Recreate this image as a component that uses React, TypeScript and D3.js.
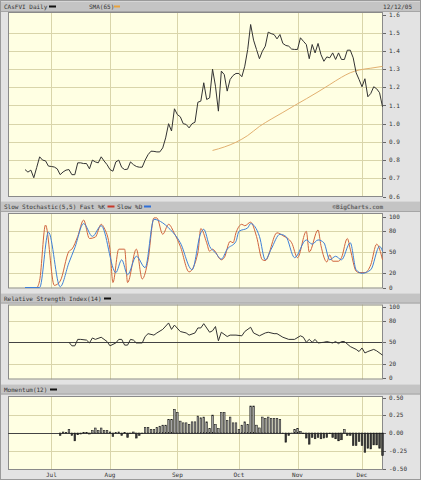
import React from 'react';
import * as d3 from 'd3';

// ---- data ----
const price: number[] = [
  0.748, 0.734, 0.745, 0.703, 0.76, 0.818, 0.80, 0.796, 0.767, 0.765,
  0.762, 0.752, 0.72, 0.735, 0.745, 0.748, 0.72, 0.72, 0.785, 0.785,
  0.781, 0.781, 0.752, 0.80, 0.79, 0.785, 0.818, 0.795, 0.775, 0.748,
  0.739, 0.79, 0.80, 0.76, 0.748, 0.75, 0.79, 0.775, 0.765, 0.761,
  0.761, 0.80, 0.83, 0.849, 0.848, 0.845, 0.845, 0.867, 0.922, 1.0,
  0.96, 1.082, 1.05, 1.038, 1.0, 0.996, 0.977, 1.0, 1.008, 1.118,
  1.124, 1.225, 1.133, 1.142, 1.30, 1.206, 1.069, 1.289, 1.27, 1.179,
  1.243, 1.265, 1.276, 1.276, 1.258, 1.316, 1.408, 1.545, 1.459, 1.408,
  1.357, 1.398, 1.426, 1.503, 1.495, 1.49, 1.466, 1.49, 1.441, 1.43,
  1.426, 1.41, 1.408, 1.408, 1.472, 1.453, 1.435, 1.357, 1.435, 1.389,
  1.441, 1.38, 1.343, 1.367, 1.362, 1.389, 1.353, 1.389, 1.353, 1.353,
  1.404, 1.404, 1.362, 1.28, 1.243, 1.203, 1.247, 1.148, 1.166, 1.203,
  1.192, 1.17, 1.093,
];

const sma65: [number, number][] = [
  [64, 0.853], [68, 0.872], [72, 0.898], [76, 0.935], [80, 0.985], [84, 1.025],
  [88, 1.062], [92, 1.100], [96, 1.137], [100, 1.175], [104, 1.215], [108, 1.255],
  [111, 1.28], [114, 1.295], [118, 1.305], [122, 1.315],
];

const stochK: [number, number][] = [
  [0, 0], [4, 0], [5, 10], [7, 88], [10, 3], [12, 9], [15, 51], [16, 54], [18, 72], [20, 95],
  [22, 69], [24, 71], [26, 89], [27, 84], [29, 54], [30, 7], [32, 54], [34, 54], [35, 7], [38, 54],
  [40, 12], [42, 39], [44, 98], [45, 98], [47, 75], [49, 89], [51, 76], [53, 58], [56, 22], [59, 49],
  [60, 83], [62, 63], [63, 51], [64, 54], [67, 39], [68, 42], [70, 65], [71, 63], [72, 77], [74, 89],
  [75, 87], [77, 92], [79, 72], [81, 39], [82, 38], [86, 77], [88, 73], [91, 63], [93, 42], [96, 79],
  [97, 50], [100, 81], [101, 59], [103, 36], [104, 46], [105, 37], [107, 37], [108, 42], [110, 69], [111, 54],
  [113, 23], [114, 21], [116, 21], [118, 32], [120, 61], [122, 39],
];

const stochD: [number, number][] = [
  [0, 0], [5, 0], [8, 78], [12, 1], [15, 35], [17, 56], [20, 90], [23, 72], [26, 87], [31, 21],
  [33, 39], [35, 18], [38, 44], [41, 28], [44, 96], [47, 91], [49, 84], [53, 63], [57, 25], [60, 77],
  [61, 82], [63, 58], [65, 49], [67, 40], [69, 54], [72, 65], [73, 79], [76, 84], [77, 90], [80, 72],
  [82, 39], [84, 54], [87, 75], [89, 72], [92, 42], [96, 67], [98, 61], [100, 67], [102, 63], [104, 39],
  [106, 44], [108, 39], [111, 63], [113, 25], [115, 20], [118, 25], [121, 58], [122, 51],
];

const rsi14: [number, number][] = [
  [15, 50], [16, 45], [17, 45], [18, 54], [19, 54], [21, 53], [22, 49], [23, 56], [24, 54], [26, 57],
  [28, 51], [29, 45], [31, 49], [32, 54], [33, 54], [34, 46], [35, 46], [36, 54], [37, 53], [38, 49],
  [40, 49], [41, 58], [42, 62], [44, 60], [45, 63], [47, 68], [49, 77], [50, 68], [51, 74], [53, 65],
  [55, 63], [56, 60], [58, 63], [59, 70], [60, 70], [61, 76], [63, 64], [64, 66], [65, 72], [66, 52],
  [67, 64], [69, 58], [70, 60], [72, 60], [74, 59], [75, 65], [77, 71], [78, 63], [80, 59], [82, 63],
  [83, 64], [85, 62], [86, 62], [88, 57], [90, 54], [92, 54], [94, 59], [95, 57], [96, 50], [97, 54],
  [98, 50], [99, 54], [100, 49], [102, 50], [103, 51], [105, 49], [106, 51], [107, 48], [108, 51], [109, 51],
  [111, 44], [113, 40], [114, 37], [115, 42], [116, 35], [117, 37], [119, 40], [120, 38], [122, 32],
];

const momentumStart = 12;
const momentum: number[] = [
  -0.034, 0.014, 0.005, 0.052, -0.034, -0.11, -0.024, -0.014, 0.01, 0.01,
  -0.014, 0.033, 0.07, 0.033, 0.07, 0.033, 0.033, 0.014, -0.048, 0.005,
  0.014, -0.034, 0.005, -0.062, -0.005, 0.014, -0.071, -0.034, -0.005, 0.08,
  0.08, 0.048, 0.048, 0.08, 0.095, 0.11, 0.11, 0.19, 0.19, 0.333,
  0.286, 0.167, 0.143, 0.143, 0.119, 0.157, 0.157, 0.238, 0.214, 0.224,
  0.157, 0.062, 0.252, 0.119, 0.062, 0.286, 0.286, 0.176, 0.224, 0.143,
  0.143, 0.048, 0.11, 0.157, 0.119, 0.38, 0.38, 0.11, 0.071, 0.224,
  0.205, 0.224, 0.205, 0.205, 0.205, 0.19, -0.005, -0.129, -0.034, 0.0,
  0.048, 0.062, 0.024, -0.01, -0.071, -0.157, -0.062, -0.081, -0.062, -0.081,
  -0.071, -0.062, -0.01, -0.062, -0.081, -0.11, -0.095, 0.048, -0.034, -0.034,
  -0.176, -0.176, -0.119, -0.176, -0.271, -0.214, -0.224, -0.167, -0.167, -0.214,
  -0.319,
];

const monthLabels = ['Jul', 'Aug', 'Sep', 'Oct', 'Nov', 'Dec'];
const monthIdx = [9, 29, 52, 73, 93, 115];
const priceTicks = [0.6, 0.7, 0.8, 0.9, 1.0, 1.1, 1.2, 1.3, 1.4, 1.5, 1.6];
const stochTicks = [0, 20, 50, 80, 100];
const rsiTicks = [0, 20, 50, 80, 100];
const momTicks = [-0.5, -0.25, 0, 0.25, 0.5];

// ---- layout ----
const W = 421;
const H = 480;
const PL = 8;
const PR = 383;
const LABX = 389;
const FONT = 'DejaVu Sans Mono, monospace';
const BG = '#e3e3e3';
const HEAD = '#c4c4c4';
const PLOT = '#ffffe3';
const GRID = '#d9d5aa';
const TXT = '#333';

const x = d3.scaleLinear().domain([0, price.length - 1]).range([25, 382.5]);

const yP = d3.scaleLinear().domain([0.6, 1.6]).range([196.5, 14.5]);
const yS = d3.scaleLinear().domain([0, 100]).range([287.5, 216.5]);
const yR = d3.scaleLinear().domain([0, 100]).range([378, 306.5]);
const yM = d3.scaleLinear().domain([-0.5, 0.5]).range([468.5, 397.5]);

function HeaderBar({ y, h }: { y: number; h: number }) {
  return (
    <g>
      <rect x={1} y={y} width={W - 2} height={h} fill={HEAD} />
      <line x1={1} x2={W - 1} y1={y + 0.5} y2={y + 0.5} stroke="#d6d6d6" />
      <line x1={1} x2={W - 1} y1={y + h - 0.5} y2={y + h - 0.5} stroke="#a6a6a6" />
    </g>
  );
}

function Panel({
  top, bottom, ticks, scale, fmt, hGrid, dark,
}: {
  top: number; bottom: number; ticks: number[]; scale: d3.ScaleLinear<number, number>;
  fmt: (v: number) => string; hGrid: number[]; dark?: number;
}) {
  return (
    <g>
      <rect x={PL} y={top} width={PR - PL} height={bottom - top} fill={PLOT} />
      {monthIdx.map((m, i) => (
        <line key={'v' + i} x1={Math.round(x(m)) + 0.5} x2={Math.round(x(m)) + 0.5} y1={top} y2={bottom} stroke={GRID} />
      ))}
      {hGrid.map((t, i) => (
        <line key={'h' + i} x1={PL} x2={PR} y1={Math.round(scale(t)) + 0.5} y2={Math.round(scale(t)) + 0.5} stroke={GRID} />
      ))}
      {dark !== undefined && (
        <line x1={PL} x2={PR} y1={Math.round(scale(dark)) + 0.5} y2={Math.round(scale(dark)) + 0.5} stroke="#444" strokeWidth={1} />
      )}
      <rect x={PL + 0.5} y={top + 0.5} width={PR - PL - 1} height={bottom - top - 1} fill="none" stroke="#8a8a8a" />
      {ticks.map((t, i) => (
        <g key={'t' + i}>
          <line x1={PR} x2={PR + 3} y1={Math.round(scale(t)) + 0.5} y2={Math.round(scale(t)) + 0.5} stroke="#666" />
          <text x={LABX} y={scale(t)} dy="0.35em" fontSize={6} fontFamily={FONT} fill={TXT}>{fmt(t)}</text>
        </g>
      ))}
    </g>
  );
}

export default function App() {
  const priceLine = d3.line<number>().x((_, i) => x(i)).y((d) => yP(d))(price) || '';
  const smaLine = d3.line<[number, number]>().x((d) => x(d[0])).y((d) => yP(d[1])).curve(d3.curveMonotoneX)(sma65) || '';
  const kLine = d3.line<[number, number]>().x((d) => x(d[0])).y((d) => yS(d[1])).curve(d3.curveMonotoneX)(stochK) || '';
  const dLine = d3.line<[number, number]>().x((d) => x(d[0])).y((d) => yS(d[1])).curve(d3.curveMonotoneX)(stochD) || '';
  const rLine = d3.line<[number, number]>().x((d) => x(d[0])).y((d) => yR(d[1]))(rsi14) || '';

  const f1 = d3.format('.1f');
  const fi = d3.format('d');
  const f2 = (v: number) => d3.format('.2f')(v).replace('−', '-');

  return (
    <svg width={W} height={H} style={{ position: 'absolute', left: 0, top: 0 }} xmlns="http://www.w3.org/2000/svg">
      <rect x={0} y={0} width={W} height={H} fill={BG} />
      <rect x={0.5} y={0.5} width={W - 1} height={H - 1} fill="none" stroke="#9a9a9a" />

      {/* price header */}
      <HeaderBar y={1} h={11} />
      <text x={4} y={6.7} dy="0.35em" fontSize={6} fontFamily={FONT} fill={TXT}>CAsFVI Daily</text>
      <rect x={49} y={5.5} width={7} height={2} fill="#111" />
      <text x={89} y={6.7} dy="0.35em" fontSize={6} fontFamily={FONT} fill={TXT}>SMA(65)</text>
      <rect x={114} y={5.5} width={6} height={2} fill="#e8a23c" />
      <text x={412} y={6.7} dy="0.35em" fontSize={6} fontFamily={FONT} fill={TXT} textAnchor="end">12/12/05</text>

      <Panel top={12} bottom={197} ticks={priceTicks} scale={yP} fmt={f1} hGrid={priceTicks.slice(1, -1)} />
      <path d={smaLine} fill="none" stroke="#e2b070" strokeWidth={1} />
      <path d={priceLine} fill="none" stroke="#333" strokeWidth={1} />

      {/* stochastic */}
      <HeaderBar y={201} h={11} />
      <text x={4} y={206.7} dy="0.35em" fontSize={6} fontFamily={FONT} fill={TXT}>Slow Stochastic(5,5) Fast %K</text>
      <rect x={107.5} y={205.5} width={7} height={2} fill="#c8382a" />
      <text x={117} y={206.7} dy="0.35em" fontSize={6} fontFamily={FONT} fill={TXT}>Slow %D</text>
      <rect x={144} y={205.5} width={7} height={2} fill="#2f6fd6" />
      <text x={383} y={206.7} dy="0.35em" fontSize={6} fontFamily={FONT} fill="#666" fontWeight="bold" textAnchor="end">©BigCharts.com</text>

      <Panel top={213} bottom={288.5} ticks={stochTicks} scale={yS} fmt={fi} hGrid={[20, 50, 80]} />
      <path d={kLine} fill="none" stroke="#d0643e" strokeWidth={1} />
      <path d={dLine} fill="none" stroke="#3f80d8" strokeWidth={1} />

      {/* RSI */}
      <HeaderBar y={293} h={10.5} />
      <text x={4} y={298.5} dy="0.35em" fontSize={6} fontFamily={FONT} fill={TXT}>Relative Strength Index(14)</text>
      <rect x={104} y={297.5} width={7} height={2} fill="#111" />
      <Panel top={304.5} bottom={379.5} ticks={rsiTicks} scale={yR} fmt={fi} hGrid={[20, 80]} dark={50} />
      <path d={rLine} fill="none" stroke="#333" strokeWidth={1} />

      {/* Momentum */}
      <HeaderBar y={384} h={10.5} />
      <text x={4} y={389.5} dy="0.35em" fontSize={6} fontFamily={FONT} fill={TXT}>Momentum(12)</text>
      <rect x={50} y={388.5} width={7} height={2} fill="#111" />
      <Panel top={396} bottom={470} ticks={momTicks} scale={yM} fmt={f2} hGrid={[-0.25, 0.25]} />
      <line x1={PL} x2={PR} y1={Math.round(yM(0)) + 0.5} y2={Math.round(yM(0)) + 0.5} stroke="#444" />
      {momentum.map((v, i) => {
        const cx = x(i + momentumStart);
        const y0 = yM(0);
        const y1 = yM(v);
        return (
          <rect key={i} x={cx - 0.8} y={Math.min(y0, y1)} width={1.6} height={Math.max(0.5, Math.abs(y1 - y0))}
            fill={v >= 0 ? '#a8a8a8' : '#3a3a3a'} stroke="#1e1e1e" strokeWidth={0.6} />
        );
      })}

      {monthLabels.map((m, i) => (
        <text key={m} x={x(monthIdx[i])} y={475} dy="0.35em" fontSize={6} fontFamily={FONT} fill={TXT} textAnchor="middle">{m}</text>
      ))}
    </svg>
  );
}
